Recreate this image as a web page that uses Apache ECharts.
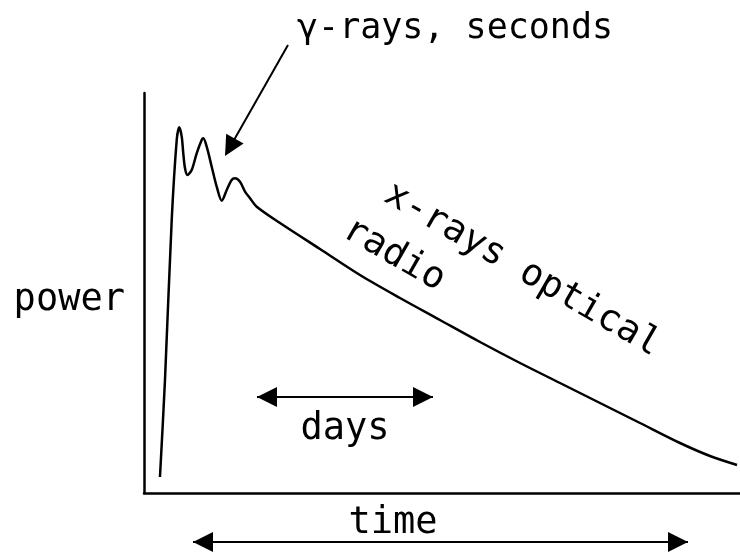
<!DOCTYPE html>
<html><head><meta charset="utf-8">
<script src="https://cdn.jsdelivr.net/npm/echarts@6/dist/echarts.min.js"></script>
<style>html,body{margin:0;padding:0;background:#fff}#c{width:740px;height:553px}</style>
</head><body><div id="c"></div>
<script>
// light curve (arbitrary units)
const timeValues = [2.68, 3.52, 4.65, 5.49, 5.92, 6.33, 6.59, 6.88, 7.27, 8.00, 8.84, 9.68, 9.95, 10.52, 11.36, 12.20, 13.04, 13.88, 14.71, 15.27, 16.11, 16.95, 17.79, 18.91, 22.82, 29.53, 36.24, 42.95, 49.66, 56.38, 63.09, 69.80, 76.51, 83.22, 89.93, 94.97, 99.50];
const powerValues = [4.0, 28.25, 68.25, 88.25, 91.43, 89.08, 84.93, 81.18, 79.5, 80.75, 84.93, 88.25, 88.68, 86.58, 81.58, 76.58, 73.08, 75.75, 78.25, 78.68, 77.83, 75.33, 73.68, 71.58, 67.5, 61.0, 54.5, 48.75, 43.25, 37.75, 32.5, 27.5, 22.5, 17.5, 12.5, 9.25, 7.0];

// annotation texts and their anchors in data units [time, power]
const labelTexts = ['γ-rays, seconds', 'x-rays optical', 'radio', 'days', 'time', 'power'];
const labelAnchors = [[25.67, 116.0], [63.42, 55.75], [41.95, 59.5], [33.72, 16.0], [41.78, -7.65], [-3.19, 48.25]];
// arrows: [from, to] in data units
const gammaArrow = [[24.16, 112], [13.59, 84.25]];
const daysArrow = [[18.96, 24], [48.49, 24]];
const timeArrow = [[8.22, -12.25], [91.28, -12.25]];

const chart = echarts.init(document.getElementById('c'), null, {renderer: 'canvas'});
const FONT = '"DejaVu Sans Mono", "Liberation Mono", monospace';
chart.setOption({
  animation: false,
  backgroundColor: '#fff',
  grid: {left: 144, right: 0, top: 93, bottom: 60},
  xAxis: {type: 'value', min: 0, max: 100, axisLine: {show: true, onZero: false, lineStyle: {color: '#000', width: 2.5}},
    axisTick: {show: false}, axisLabel: {show: false}, splitLine: {show: false}},
  yAxis: {type: 'value', min: 0, max: 100, axisLine: {show: true, onZero: false, lineStyle: {color: '#000', width: 2.5}},
    axisTick: {show: false}, axisLabel: {show: false}, splitLine: {show: false}},
  series: [{
    type: 'line', data: timeValues.map((t, i) => [t, powerValues[i]]),
    smooth: 0.3, showSymbol: false, clip: false,
    lineStyle: {color: '#000', width: 2.5}
  }]
});

const toPx = p => chart.convertToPixel({seriesIndex: 0}, p);
function arrowHead(tip, from, L, W) {
  const dx = tip[0] - from[0], dy = tip[1] - from[1];
  const len = Math.hypot(dx, dy);
  const ux = dx / len, uy = dy / len;
  const bx = tip[0] - ux * L, by = tip[1] - uy * L;
  return {type: 'polygon', silent: true,
    shape: {points: [[tip[0], tip[1]], [bx - uy * W, by + ux * W], [bx + uy * W, by - ux * W]]},
    style: {fill: '#000'}};
}
function line(a, b) {
  return {type: 'line', silent: true, shape: {x1: a[0], y1: a[1], x2: b[0], y2: b[1]}, style: {stroke: '#000', lineWidth: 2}};
}
const graphics = [];
// gamma arrow (single head)
{
  const a = toPx(gammaArrow[0]), b = toPx(gammaArrow[1]);
  const len = Math.hypot(b[0] - a[0], b[1] - a[1]);
  const mid = [b[0] - (b[0] - a[0]) / len * 18, b[1] - (b[1] - a[1]) / len * 18];
  graphics.push(line(a, mid), arrowHead(b, a, 20, 10));
}
// double-headed arrows
[daysArrow, timeArrow].forEach(arr => {
  const a = toPx(arr[0]), b = toPx(arr[1]);
  graphics.push(line(a, b), arrowHead(a, b, 20, 10), arrowHead(b, a, 20, 10));
});
const labelStyle = [
  {size: 35, align: 'left', rot: 0},
  {size: 37, align: 'center', rot: -Math.PI / 6},
  {size: 37, align: 'center', rot: -Math.PI / 6},
  {size: 37, align: 'center', rot: 0},
  {size: 37, align: 'center', rot: 0},
  {size: 37, align: 'right', rot: 0}
];
labelTexts.forEach((t, i) => {
  const p = toPx(labelAnchors[i]);
  graphics.push({type: 'text', silent: true, x: p[0], y: p[1], rotation: labelStyle[i].rot,
    style: {text: t, fontFamily: FONT, fontSize: labelStyle[i].size, fill: '#000',
      align: labelStyle[i].align, verticalAlign: 'middle'}});
});
chart.setOption({graphic: graphics});
</script>
</body></html>
